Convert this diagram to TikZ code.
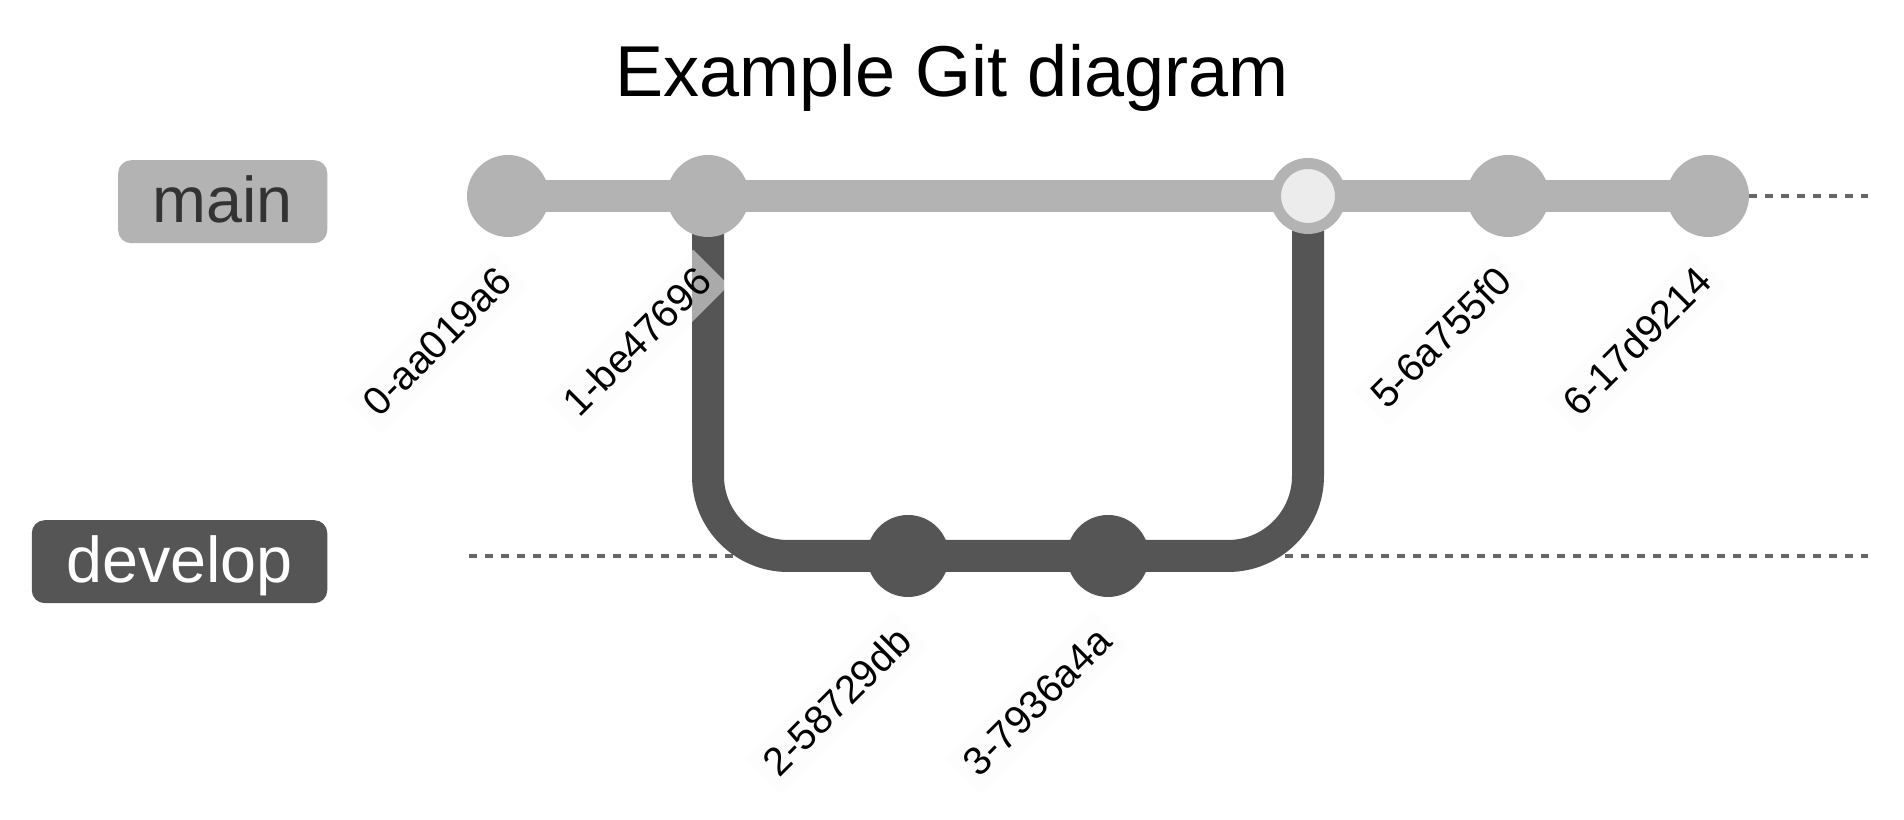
\documentclass[tikz,border=0pt]{standalone}
\usepackage{fontspec}
\setmainfont{Liberation Sans}

\definecolor{mainbr}{HTML}{B3B3B3}
\definecolor{devbr}{HTML}{555555}
\definecolor{mergefill}{HTML}{ECECEC}
\definecolor{maintext}{HTML}{333333}
\definecolor{dashgray}{HTML}{666666}
\definecolor{lblbg}{HTML}{FCFCFC}

\begin{document}
\begin{tikzpicture}[
	branchline/.style={line width=0.32cm},
	dashline/.style={dashgray, line width=0.04cm, dash pattern=on 0.08cm off 0.08cm},
	commit/.style={circle, inner sep=0pt, minimum size=0.82cm, fill=#1},
	mergecommit/.style={circle, inner sep=0pt, minimum size=0.65cm, draw=mainbr, line width=0.11cm, fill=mergefill},
	hashlbl/.style={rotate=45, anchor=east, inner xsep=0.1cm, inner ysep=0.03cm, text height=10.2pt, text depth=2.4pt, fill=lblbg, fill opacity=0.51, text opacity=1, font=\fontsize{11.3}{13}\selectfont},
	brlbl/.style={rounded corners=0.13cm, anchor=east, minimum height=0.83cm, inner xsep=0.345cm, inner ysep=0pt, text height=12.9pt, text depth=1pt, font=\fontsize{18.4}{21}\selectfont},
]
\useasboundingbox (0,0) rectangle (19.04,8.2);

%% Titel
\node[anchor=base, font=\fontsize{20.5}{24}\selectfont] (title) at (9.52,7.23) {Example Git diagram};

%% Positionen der Commits
\coordinate (p0) at (5.08,6.24);
\coordinate (p1) at (7.08,6.24);
\coordinate (p2) at (9.08,2.64);
\coordinate (p3) at (11.08,2.64);
\coordinate (p4) at (13.08,6.24);
\coordinate (p5) at (15.08,6.24);
\coordinate (p6) at (17.08,6.24);
%%%%%%%%%%%%%%%%

%% Branches
\begin{scope}
	\coordinate (mstart) at (4.69,6.24);
	\coordinate (mend) at (18.68,6.24);
	\coordinate (dstart) at (4.69,2.64);
	\coordinate (dend) at (18.68,2.64);
	\draw[dashline] (mstart) -- (mend);
	\draw[dashline] (dstart) -- (dend);

	\node[brlbl, fill=mainbr, text=maintext] (bmain) at (3.28,6.183) {main};
	\node[brlbl, fill=devbr, text=white] (bdev) at (3.28,2.583) {develop};

	\draw[branchline, mainbr] (p0) -- (p6);
	\draw[branchline, devbr, rounded corners=0.8cm] (p1) |- (p2) -- (p3) -| (p4);
\end{scope}

%% Commits
\begin{scope}
	\node[commit=mainbr] (c0) at (p0) {};
	\node[commit=mainbr] (c1) at (p1) {};
	\node[commit=devbr] (c2) at (p2) {};
	\node[commit=devbr] (c3) at (p3) {};
	\node[mergecommit] (c4) at (p4) {};
	\node[commit=mainbr] (c5) at (p5) {};
	\node[commit=mainbr] (c6) at (p6) {};

	\node[hashlbl] (l0) at ([shift={(0.036,-0.709)}]c0.center) {0-aa019a6};
	\node[hashlbl] (l1) at ([shift={(0.036,-0.709)}]c1.center) {1-be47696};
	\node[hashlbl] (l2) at ([shift={(0.036,-0.709)}]c2.center) {2-58729db};
	\node[hashlbl] (l3) at ([shift={(0.036,-0.709)}]c3.center) {3-7936a4a};
	\node[hashlbl] (l5) at ([shift={(0.036,-0.709)}]c5.center) {5-6a755f0};
	\node[hashlbl] (l6) at ([shift={(0.036,-0.709)}]c6.center) {6-17d9214};
\end{scope}

%\draw (current bounding box.south west) rectangle (current bounding box.north east);

\end{tikzpicture}
\end{document}
